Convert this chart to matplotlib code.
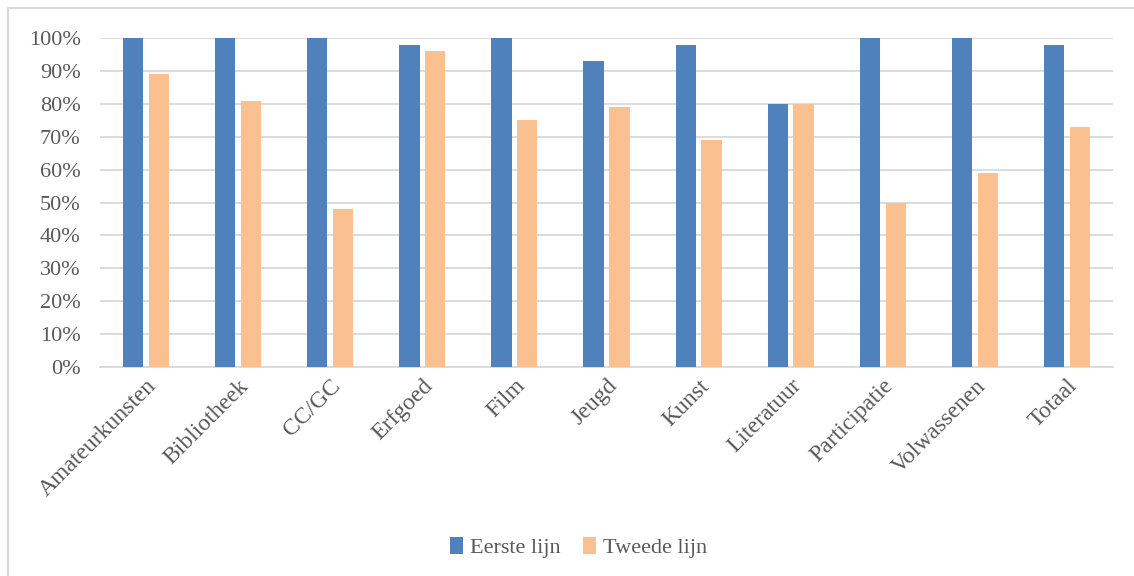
import numpy as np
from matplotlib import pyplot as plt
from matplotlib.patches import Rectangle
from matplotlib.ticker import MultipleLocator, PercentFormatter

categories = ['Amateurkunsten', 'Bibliotheek', 'CC/GC', 'Erfgoed', 'Film', 'Jeugd',
              'Kunst', 'Literatuur', 'Participatie', 'Volwassenen', 'Totaal']
eerste_lijn = [100, 100, 100, 98, 100, 93, 98, 80, 100, 100, 98]
tweede_lijn = [89, 81, 48, 96, 75, 79, 69, 80, 50, 59, 73]

blue = '#4f81bd'
orange = '#fac090'
text_col = '#595959'

plt.rcParams['font.family'] = ['Liberation Serif', 'DejaVu Serif']

fig = plt.figure(figsize=(11.34, 5.76), dpi=100)
ax = fig.add_axes([0.0882, 0.3628, 0.8933, 0.5712])

# chart frame (cut off at right and bottom like the screenshot)
fig.patches.append(Rectangle((8 / 1134, -0.1), 1.2, 1 - 8 / 576 + 0.1,
                             transform=fig.transFigure, fill=False,
                             edgecolor='#d9d9d9', linewidth=1.5))

x = np.arange(len(categories))
w = 0.22
off = 0.14
ax.bar(x - off, eerste_lijn, w, color=blue, label='Eerste lijn', zorder=3)
ax.bar(x + off, tweede_lijn, w, color=orange, label='Tweede lijn', zorder=3)

ax.set_xlim(-0.5, len(categories) - 0.5)
ax.set_ylim(0, 100)
ax.yaxis.set_major_locator(MultipleLocator(10))
ax.yaxis.set_major_formatter(PercentFormatter(decimals=0))
ax.grid(axis='y', color='#d9d9d9', linewidth=1.3, zorder=0)
for s in ['top', 'right', 'left']:
    ax.spines[s].set_visible(False)
ax.spines['bottom'].set_color('#d9d9d9')
ax.spines['bottom'].set_linewidth(1.3)
ax.tick_params(axis='both', length=0, colors=text_col)
ax.tick_params(axis='y', pad=14, labelsize=16)
ax.tick_params(axis='x', pad=6, labelsize=17)
ax.set_xticks(x)
ax.set_xticklabels(categories, rotation=45, ha='right', rotation_mode='anchor')

fig.legend(loc='center', bbox_to_anchor=(0.51, 0.05), ncol=2, frameon=False,
           fontsize=16, labelcolor=text_col, handlelength=0.6, handleheight=0.8,
           handletextpad=0.3, columnspacing=1.0)

fig.savefig('out.png', dpi=100)
